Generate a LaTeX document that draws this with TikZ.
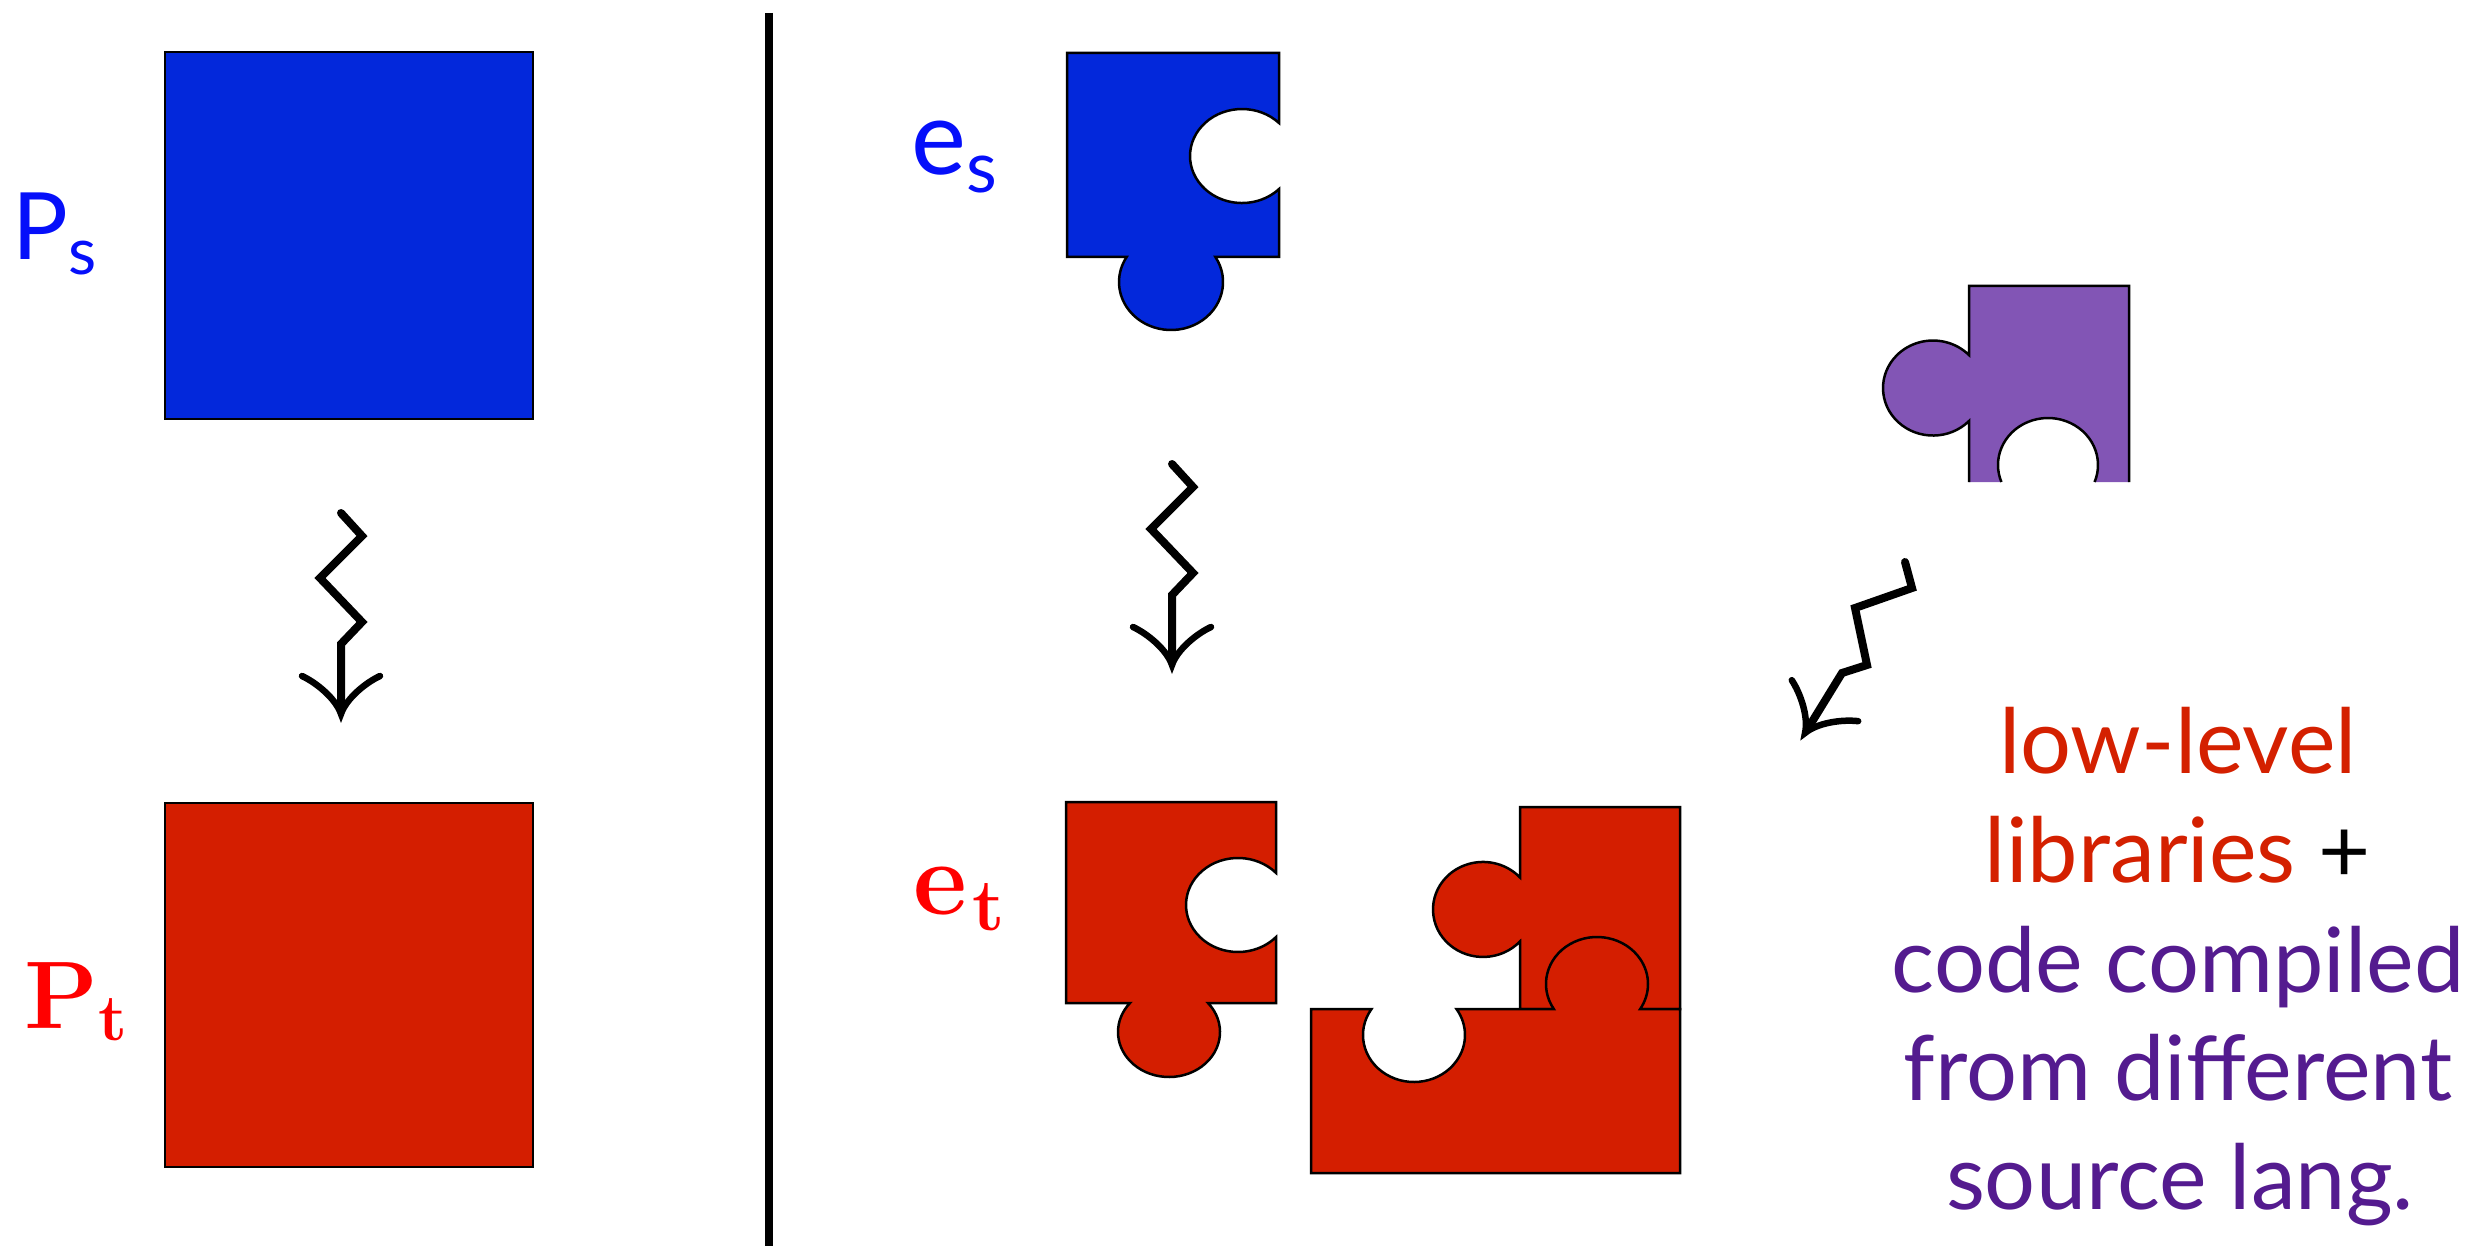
\documentclass[tikz,border=0pt]{standalone}
\usepackage{fontspec}
\newfontfamily\gill{Lato}
\definecolor{pieceblue}{RGB}{3,40,219}
\definecolor{piecered}{RGB}{212,30,0}
\definecolor{piecepurple}{RGB}{130,85,181}
\definecolor{lblblue}{RGB}{5,15,250}
\definecolor{lblred}{RGB}{255,0,0}
\definecolor{txtred}{RGB}{212,32,0}
\definecolor{txtpurple}{RGB}{84,27,143}
\tikzset{
  sq/.style={draw=black, line width=2pt},
  piece/.style={draw=black, line width=2.5pt, line join=miter},
  squig/.style={line width=8pt, line cap=round, line join=miter},
  headline/.style={line width=6.5pt, line cap=round, line join=miter},
  sqhead/.pic={\draw[headline] (-39,-38) .. controls (-24,-31) and (-5,-15) .. (0,0)
                                 .. controls (5,-15) and (24,-31) .. (39,-38);},
  textline/.style={anchor=base, inner sep=0pt, font=\gill\fontsize{90}{90}\selectfont},
}
\begin{document}
\begin{tikzpicture}[x=1pt,y=-1pt]
\useasboundingbox (0,0) rectangle (2487,1246);

% left column: whole programs
\filldraw[sq, fill=pieceblue] (165,52) rectangle (533,419);
\filldraw[sq, fill=piecered] (165,803) rectangle (533,1167);
\node[anchor=base west, inner sep=0pt, text=lblblue, font=\gill\fontsize{93}{93}\selectfont]
  (Ps) at (12,260) {P\raisebox{-15pt}{\fontsize{65}{65}\selectfont s}};
\node[anchor=base west, inner sep=0pt, text=lblred, font=\bfseries\fontsize{96}{96}\selectfont]
  (Pt) at (24,1028) {P\raisebox{-12pt}{\fontsize{66}{66}\selectfont t}};

% squiggly compilation arrow (left)
\coordinate (l1) at (341,513);
\coordinate (l2) at (362,536);
\coordinate (l3) at (320,578);
\coordinate (l4) at (362,622);
\coordinate (l5) at (341,644);
\coordinate (l6) at (341,708);
\coordinate (ltip) at (341,714);
\draw[squig] (l1) -- (l2) -- (l3) -- (l4) -- (l5) -- (l6);
\pic at (ltip) {sqhead};

% divider
\draw[line width=8pt] (768.5,13) -- (768.5,1246);

% source component
\filldraw[piece, fill=pieceblue] (1067,53) -- (1279,53) -- (1279,123)
  arc[start angle=44.64, end angle=315.36, x radius=52pt, y radius=47pt]
  -- (1279,257) -- (1215.4,257)
  arc[start angle=31.4, end angle=-211.4, x radius=52pt, y radius=48pt]
  -- (1067,257) -- cycle;
\node[anchor=base west, inner sep=0pt, text=lblblue, font=\gill\fontsize{104}{104}\selectfont]
  (es) at (911,175) {e\raisebox{-18pt}{\fontsize{71}{71}\selectfont s}};

% squiggly compilation arrow (middle)
\coordinate (m1) at (1172,464);
\coordinate (m2) at (1193,487);
\coordinate (m3) at (1151,529);
\coordinate (m4) at (1193,573);
\coordinate (m5) at (1172,595);
\coordinate (m6) at (1172,659);
\coordinate (mtip) at (1172,665);
\draw[squig] (m1) -- (m2) -- (m3) -- (m4) -- (m5) -- (m6);
\pic at (mtip) {sqhead};

% compiled component
\filldraw[piece, fill=piecered] (1066,802) -- (1276,802) -- (1276,872.9)
  arc[start angle=43.05, end angle=316.95, x radius=52pt, y radius=47pt]
  -- (1276,1003) -- (1208,1003)
  arc[start angle=40.12, end angle=-220.12, x radius=51pt, y radius=45pt]
  -- (1066,1003) -- cycle;
\node[anchor=base west, inner sep=0pt, text=lblred, font=\bfseries\fontsize{105}{105}\selectfont]
  (et) at (913,914) {e\kern5pt\raisebox{-16pt}{\fontsize{74}{74}\selectfont t}};

% linked pieces
\filldraw[piece, fill=piecered] (1520,807) -- (1680,807) -- (1680,1009) -- (1520,1009)
  -- (1520,941.4)
  arc[start angle=-42.27, end angle=-317.73, x radius=50pt, y radius=47.5pt]
  -- cycle;
\filldraw[piece, fill=piecered] (1311,1009) -- (1371.5,1009)
  arc[start angle=146.41, end angle=393.59, x radius=51pt, y radius=47pt]
  -- (1553.8,1009)
  arc[start angle=212.14, end angle=-32.14, x radius=51pt, y radius=47pt]
  -- (1680,1009) -- (1680,1173) -- (1311,1173) -- cycle;

% foreign component (open at the bottom)
\fill[piecepurple] (1969,286) -- (2129,286) -- (2129,482) -- (2094.6,482)
  arc[start angle=-21.2, end angle=201.2, x radius=50pt, y radius=47pt]
  -- (1969,482) -- (1969,421)
  arc[start angle=-43.95, end angle=-316.05, x radius=50pt, y radius=47.5pt]
  -- cycle;
\draw[piece] (1969,482) -- (1969,421)
  arc[start angle=-43.95, end angle=-316.05, x radius=50pt, y radius=47.5pt]
  -- (1969,286) -- (2129,286) -- (2129,482);
\draw[piece] (2094.6,482)
  arc[start angle=-21.2, end angle=201.2, x radius=50pt, y radius=47pt];

% squiggly arrow (right, slanted)
\coordinate (r1) at (1905,562);
\coordinate (r2) at (1912,588);
\coordinate (r3) at (1855,608);
\coordinate (r4) at (1867,665);
\coordinate (r5) at (1842,673);
\coordinate (r6) at (1808.2,728);
\coordinate (rtip) at (1805,733);
\draw[squig] (r1) -- (r2) -- (r3) -- (r4) -- (r5) -- (r6);
\pic[rotate=-31.7] at (rtip) {sqhead};

% explanation
\node[textline, text=txtred] (t1) at (2178,773) {low-level};
\node[textline] (t2) at (2178,882) {\textcolor{txtred}{libraries} +};
\node[textline, text=txtpurple] (t3) at (2178,992) {code compiled};
\node[textline, text=txtpurple] (t4) at (2178,1100) {from different};
\node[textline, text=txtpurple] (t5) at (2180,1209) {source lang.};
\end{tikzpicture}
\end{document}
